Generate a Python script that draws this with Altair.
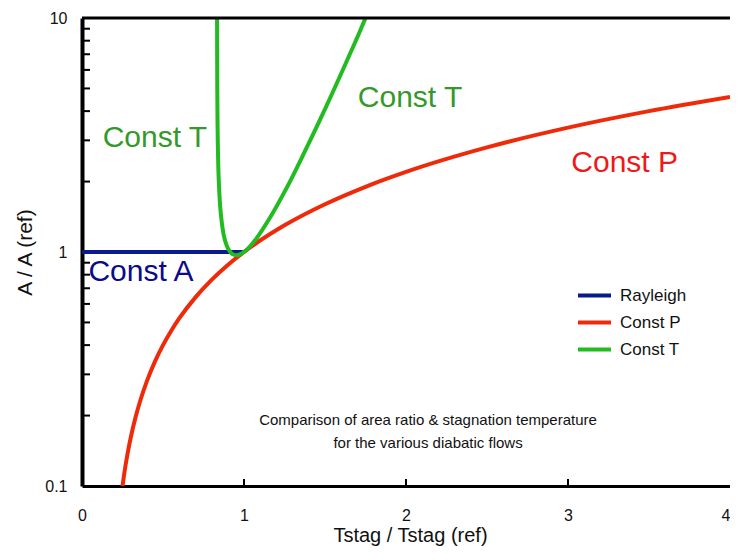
import altair as alt
import pandas as pd

series_names = ["Rayleigh", "Const P", "Const T"]
series_colors = ["#0a1a8c", "#ee2a0a", "#22bb22"]

rayleigh_x = [0.0, 1.0]
rayleigh_y = [1.0, 1.0]

constp_x = [0.25, 0.26, 0.28, 0.30, 0.33, 0.36, 0.40, 0.45, 0.50, 0.55, 0.60, 0.70, 0.80, 0.90, 1.00,
            1.25, 1.50, 1.75, 2.00, 2.50, 3.00, 3.50, 4.00]
constp_y = [0.100, 0.112, 0.136, 0.160, 0.196, 0.232, 0.280, 0.340, 0.400, 0.460, 0.520, 0.640, 0.760, 0.880, 1.000,
            1.30, 1.60, 1.90, 2.20, 2.80, 3.40, 4.00, 4.60]

constt_x = [0.8337, 0.8342, 0.8350, 0.8371, 0.8400, 0.8483, 0.8600, 0.8750, 0.8933, 0.9150, 0.9400, 0.9538,
            0.9683, 1.0000, 1.0350, 1.0733, 1.1600, 1.2600, 1.3733, 1.5000, 1.6400, 1.7150, 1.7500]
constt_y = [10.0, 7.12, 5.00, 3.36, 2.55, 1.76, 1.39, 1.18, 1.065, 1.00, 0.972, 0.969,
            0.973, 1.000, 1.053, 1.134, 1.40, 1.86, 2.67, 4.08, 6.68, 8.76, 10.0]

x_tick_values = [0, 1, 2, 3, 4]
x_inner_ticks = [1, 2, 3]
y_tick_values = [0.1, 1, 10]
y_minor_ticks = [0.2, 0.3, 0.4, 0.5, 0.6, 0.7, 0.8, 0.9, 2, 3, 4, 5, 6, 7, 8, 9]

note_lines = ["Comparison of area ratio & stagnation temperature",
              "for the various diabatic flows"]

rows = []
for name, xs, ys in zip(series_names, [rayleigh_x, constp_x, constt_x], [rayleigh_y, constp_y, constt_y]):
    for i, (a, b) in enumerate(zip(xs, ys)):
        rows.append({"series": name, "x": a, "y": b, "i": i})
df = pd.DataFrame(rows)

W, H = 648, 468
FONT = "Liberation Sans"

xscale = alt.Scale(domain=[0, 4], nice=False, zero=False)
yscale = alt.Scale(type="log", domain=[0.1, 10], nice=False)

x_axis = alt.Axis(values=x_tick_values, format="d", title="Tstag / Tstag (ref)", grid=False, ticks=False, tickSize=0,
                  domainColor="black", domainWidth=3, labelFont=FONT, labelFontSize=16, labelColor="#111111",
                  labelPadding=21, titleFont=FONT, titleFontSize=20, titleFontWeight="normal", titleColor="#111111",
                  titleX=328, titleY=49, titleBaseline="middle", labelFlush=False,
                  labelAlign={"condition": {"test": "datum.value == 4", "value": "right"}, "value": "center"})
y_axis = alt.Axis(values=y_tick_values, format="~g", title="A / A (ref)", grid=False, ticks=False, tickSize=0,
                  domainColor="black", domainWidth=4, labelFont=FONT, labelFontSize=16, labelColor="#111111",
                  labelPadding=15, titleFont=FONT, titleFontSize=21, titleFontWeight="normal", titleColor="#111111",
                  titleX=-57, titleY=234, titleBaseline="middle", titleAlign="center", titleAngle=-90,
                  labelFlush=False)

lines = alt.Chart(df).mark_line(strokeWidth=4, clip=True, interpolate="monotone").encode(
    x=alt.X("x:Q", scale=xscale, axis=x_axis),
    y=alt.Y("y:Q", scale=yscale, axis=y_axis),
    color=alt.Color("series:N", sort=series_names,
                    scale=alt.Scale(domain=series_names, range=series_colors),
                    legend=alt.Legend(title=None, orient="none", legendX=494, legendY=259,
                                      symbolType="stroke", symbolSize=1089, symbolStrokeWidth=4,
                                      labelFont=FONT, labelFontSize=17, labelColor="#111111",
                                      labelOffset=7, rowPadding=-6, padding=0)),
    order="i:Q",
)

ymt = alt.Chart(pd.DataFrame({"v": y_minor_ticks})).mark_rule(color="black", strokeWidth=2).encode(
    y=alt.Y("v:Q", scale=yscale), x=alt.value(0), x2=alt.value(8))
xmt = alt.Chart(pd.DataFrame({"v": x_inner_ticks})).mark_rule(color="black", strokeWidth=2).encode(
    x=alt.X("v:Q", scale=xscale), y=alt.value(H), y2=alt.value(H - 7))

top_border = alt.Chart(pd.DataFrame({"a": [0]})).mark_rule(color="black", strokeWidth=3).encode(
    x=alt.value(0), x2=alt.value(W), y=alt.value(0))

def label(txt, x, y, color):
    return alt.Chart(pd.DataFrame({"a": [0]})).mark_text(
        text=txt, font=FONT, fontSize=30, color=color, align="center", baseline="middle"
    ).encode(x=alt.datum(x, scale=xscale), y=alt.datum(y, scale=yscale))

lab1 = label("Const T", 0.45, 3.07, "#339a2a")
lab2 = label("Const T", 2.025, 4.55, "#339a2a")
lab3 = label("Const P", 3.35, 2.40, "#ee1a1a")
lab4 = label("Const A", 0.364, 0.822, "#0a0a8a")

note = alt.Chart(pd.DataFrame({"a": [0]})).mark_text(
    text=note_lines, font=FONT, fontSize=15, color="#111111", align="center", baseline="middle", lineHeight=23
).encode(x=alt.datum(2.136, scale=xscale), y=alt.datum(0.191, scale=yscale))

chart = alt.layer(lines, ymt, xmt, top_border, lab1, lab2, lab3, lab4, note).properties(
    width=W, height=H,
    autosize=alt.AutoSizeParams(type="none"),
    padding={"left": 74, "top": 10, "right": 0, "bottom": 60},
).configure_view(stroke="#888888", strokeWidth=1).configure(background="white")

chart.save("out.html", embed_options={"renderer": "svg", "actions": False})
